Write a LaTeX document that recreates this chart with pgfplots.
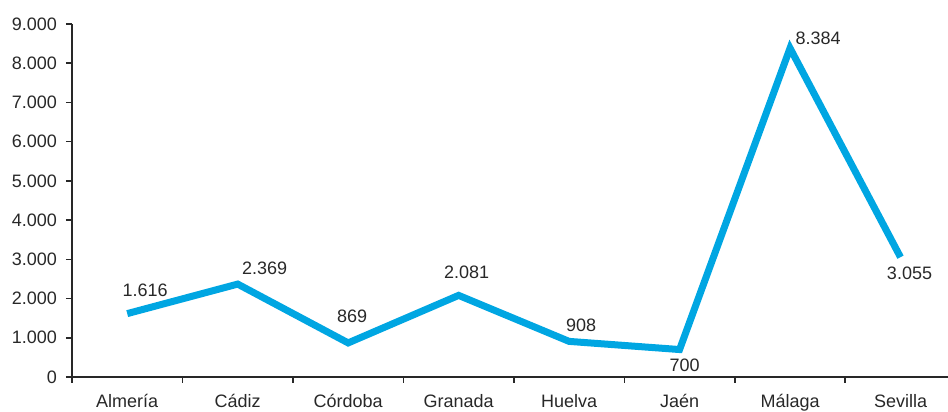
\documentclass[border=0pt]{standalone}
\usepackage{pgfplots}
\usepackage{pgfplotstable}
\pgfplotsset{compat=1.18}
\usepackage{fontspec}
\setmainfont{Liberation Sans}
\definecolor{linecyan}{RGB}{0,166,226}
\definecolor{txt}{RGB}{40,40,40}
\pgfplotstableread{
x y anc dx dy
0 1616 270 9 6.5
1 2369 270 13.5 3
2 869 270 2 8.5
3 2081 270 4 6.5
4 908 270 6 3
5 700 90 2.5 -2.75
6 8384 270 14 0
7 3055 90 4.5 -3
}\datatable
\begin{document}
\begin{tikzpicture}
\begin{axis}[
  scale only axis,
  width=438pt, height=176.5pt,
  xmin=-0.5, xmax=7.43,
  ymin=0, ymax=9000,
  axis x line*=bottom, axis y line*=left,
  axis line style={draw=txt, line width=0.8pt},
  xtick={0,...,7},
  xticklabels={Almería,Cádiz,Córdoba,Granada,Huelva,Jaén,Málaga,Sevilla},
  major x tick style={draw=none},
  minor xtick={-0.5,0.5,...,6.5},
  minor x tick style={draw=txt, line width=0.8pt},
  ytick={0,1000,...,9000},
  y tick style={draw=txt, line width=0.8pt},
  tick align=outside,
  major tick length=3pt, minor tick length=3pt,
  x tick label style={yshift=-2pt},
  y tick label style={xshift=-1pt},
  /pgf/number format/assume math mode=true,
  /pgf/number format/.cd, 1000 sep={.}, fixed, precision=0,
  /pgfplots/.cd,
  tick label style={font=\fontsize{9}{10}\selectfont, text=txt},
  clip=false,
]
\addplot[linecyan, line width=3.5pt, line join=miter,
  nodes near coords,
  visualization depends on={\thisrow{anc} \as \myanc},
  visualization depends on={\thisrow{dx} \as \mydx},
  visualization depends on={\thisrow{dy} \as \mydy},
  every node near coord/.append style={font=\fontsize{9}{10}\selectfont, text=txt, anchor=\myanc, xshift=\mydx pt, yshift=\mydy pt, inner sep=0pt,
    /pgf/number format/.cd, 1000 sep={.}, fixed, precision=0, assume math mode=true},
] table[x=x, y=y] {\datatable};
\end{axis}
\pgfresetboundingbox
\path ([xshift=-36pt, yshift=-17.5pt]current axis.south west) rectangle ([yshift=12pt]current axis.north east);
\end{tikzpicture}
\end{document}
